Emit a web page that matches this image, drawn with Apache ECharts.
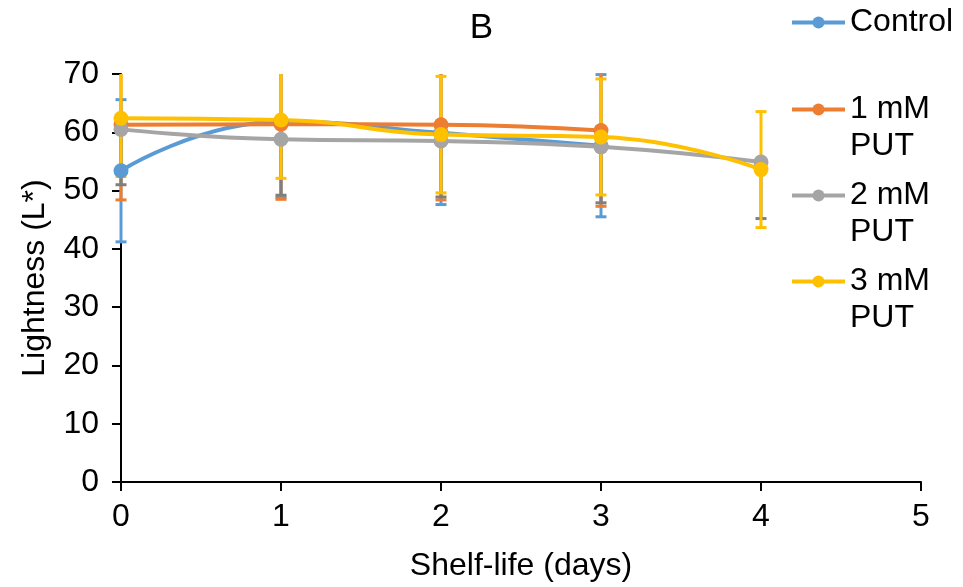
<!DOCTYPE html>
<html>
<head>
<meta charset="utf-8">
<script src="https://cdn.jsdelivr.net/npm/echarts@6/dist/echarts.min.js"></script>
<style>
  html, body { margin: 0; padding: 0; background: #fff; }
  #chart { width: 963px; height: 587px; }
</style>
</head>
<body>
<div id="chart"></div>
<script>
// lightness over shelf-life, mean +/- sd
var days = [0, 1, 2, 3, 4];
var seriesNames = ['Control', '1 mM PUT', '2 mM PUT', '3 mM PUT'];
var controlMean = [53.4, 61.8, 59.9, 57.7];
var controlSd = [12.2, 13.0, 12.3, 12.2];
var put1Mean = [61.3, 61.4, 61.3, 60.3];
var put1Sd = [12.9, 12.9, 12.9, 13.0];
var put2Mean = [60.5, 58.8, 58.5, 57.5, 54.9];
var put2Sd = [9.5, 9.6, 9.6, 9.6, 9.7];
var put3Mean = [62.4, 62.1, 59.6, 59.2, 53.6];
var put3Sd = [10.0, 10.0, 10.0, 9.95, 9.95];
var xTicks = [0, 1, 2, 3, 4, 5];
var yTicks = [0, 10, 20, 30, 40, 50, 60, 70];

var colors = ['#5B9BD5', '#ED7D31', '#A5A5A5', '#FFC000'];
var errColors = ['#5B9BD5', '#ED7D31', '#7F7F7F', '#FFC000'];
var errPlus = [true, true, false, true];   // 2 mM bars only show the minus side
var font = '"Liberation Sans", Arial, sans-serif';
var fs = 32;
var yMin = yTicks[0], yMax = yTicks[yTicks.length - 1];

var means = [controlMean, put1Mean, put2Mean, put3Mean];
var sds = [controlSd, put1Sd, put2Sd, put3Sd];

function pairs(arr) {
    return arr.map(function (v, i) { return [days[i], v]; });
}

function errRender(color, plus) {
    return function (params, api) {
        var x = api.value(0), m = api.value(1), s = api.value(2);
        var hi = plus ? m + s : m, lo = m - s;
        var top = api.coord([x, Math.min(hi, yMax)]);
        var bot = api.coord([x, Math.max(lo, yMin)]);
        var st = { stroke: color, lineWidth: 3 };
        var kids = [{ type: 'line', shape: { x1: top[0], y1: top[1], x2: bot[0], y2: bot[1] }, style: st }];
        if (plus && hi <= yMax) kids.push({ type: 'line', shape: { x1: top[0] - 5.5, y1: top[1], x2: top[0] + 5.5, y2: top[1] }, style: st });
        if (lo >= yMin) kids.push({ type: 'line', shape: { x1: bot[0] - 5.5, y1: bot[1], x2: bot[0] + 5.5, y2: bot[1] }, style: st });
        return { type: 'group', children: kids };
    };
}

var series = [];
seriesNames.forEach(function (name, k) {
    series.push({
        name: name,
        type: 'line',
        data: pairs(means[k]),
        smooth: 0.5,
        symbol: 'circle',
        symbolSize: 15,
        z: 3,
        lineStyle: { color: colors[k], width: 4 },
        itemStyle: { color: colors[k] }
    });
});
seriesNames.forEach(function (name, k) {
    series.push({
        type: 'custom',
        z: 1,
        silent: true,
        renderItem: errRender(errColors[k], errPlus[k]),
        data: means[k].map(function (v, i) { return [days[i], v, sds[k][i]]; })
    });
});

// legend text: two-line labels keep the marker on the first line
function legendFor(name, top) {
    return {
        data: [name],
        left: 790,
        top: top,
        orient: 'vertical',
        padding: 0,
        itemWidth: 53,
        itemHeight: 15,
        lineStyle: { width: 4 },
        formatter: function (n) {
            var parts = n.split(' PUT');
            return parts.length > 1 ? '\n' + parts[0] + '\nPUT' : n;
        },
        textStyle: { color: '#000', fontSize: fs, fontFamily: font, lineHeight: 37 }
    };
}

var chart = echarts.init(document.getElementById('chart'));
var option = {
    animation: false,
    backgroundColor: '#fff',
    title: {
        text: 'B',
        left: 'center',
        top: 6,
        textStyle: { color: '#000', fontSize: 35, fontWeight: 'normal', fontFamily: font }
    },
    legend: [
        legendFor(seriesNames[0], 4),
        legendFor(seriesNames[1], 54),
        legendFor(seriesNames[2], 140),
        legendFor(seriesNames[3], 226)
    ],
    grid: { left: 121, right: 42, top: 74, bottom: 103 },
    xAxis: {
        type: 'value',
        min: xTicks[0],
        max: xTicks[xTicks.length - 1],
        interval: 1,
        name: 'Shelf-life (days)',
        nameLocation: 'middle',
        nameGap: 68,
        nameTextStyle: { color: '#000', fontSize: fs, fontFamily: font },
        axisLine: { lineStyle: { color: '#000', width: 2 } },
        axisTick: { show: true, inside: false, length: 9, lineStyle: { color: '#000', width: 2 } },
        axisLabel: { color: '#000', fontSize: fs, fontFamily: font, margin: 19 },
        splitLine: { show: false }
    },
    yAxis: {
        type: 'value',
        min: yMin,
        max: yMax,
        interval: 10,
        name: 'Lightness (L*)',
        nameLocation: 'middle',
        nameGap: 70,
        nameTextStyle: { color: '#000', fontSize: fs, fontFamily: font },
        axisLine: { show: true, lineStyle: { color: '#000', width: 2 } },
        axisTick: { show: true, inside: false, length: 9, lineStyle: { color: '#000', width: 2 } },
        axisLabel: { color: '#000', fontSize: fs, fontFamily: font, margin: 22 },
        splitLine: { show: false }
    },
    series: series
};
chart.setOption(option);
</script>
</body>
</html>
